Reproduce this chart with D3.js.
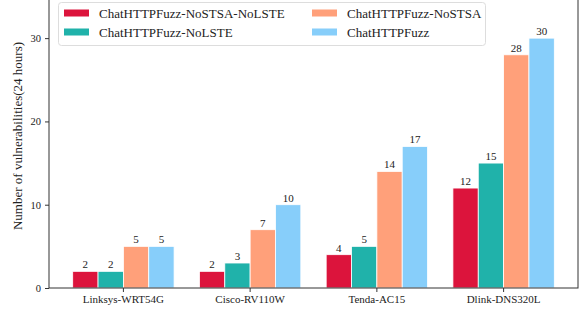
<!DOCTYPE html>
<html>
<head>
<meta charset="utf-8">
<script src="https://cdn.jsdelivr.net/npm/d3@7/dist/d3.min.js"></script>
<style>
  body { margin: 0; background: #fff; }
</style>
</head>
<body>
<div id="chart"></div>
<script>
const devices = ['Linksys-WRT54G', 'Cisco-RV110W', 'Tenda-AC15', 'Dlink-DNS320L'];
const seriesNames = ['ChatHTTPFuzz-NoSTSA-NoLSTE', 'ChatHTTPFuzz-NoLSTE', 'ChatHTTPFuzz-NoSTSA', 'ChatHTTPFuzz'];
const noStsaNoLste = [2, 2, 4, 12];
const noLste = [2, 3, 5, 15];
const noStsa = [5, 7, 14, 28];
const full = [5, 10, 17, 30];
const yTicks = [0, 10, 20, 30];
const colors = ['#DC143C', '#20B2AA', '#FFA07A', '#87CEFA'];

const seriesValues = [noStsaNoLste, noLste, noStsa, full];
const FONT = '"Liberation Serif", "Times New Roman", serif';

const width = 582, height = 314;
const plotLeft = 49, plotRight = 578, plotBottom = 288, plotTop = -16;

const svg = d3.select('#chart').append('svg')
  .attr('width', width)
  .attr('height', height);

const x = d3.scaleBand()
  .domain(devices)
  .range([plotLeft, plotRight])
  .paddingInner(0.2)
  .paddingOuter(0.187);

const xs = d3.scaleBand()
  .domain(seriesNames)
  .range([0, x.bandwidth()]);

const y = d3.scaleLinear()
  .domain([0, 36.5])
  .range([plotBottom, plotTop]);

// bars + value labels
seriesNames.forEach((name, si) => {
  const rows = devices.map((d, i) => ({ device: d, value: seriesValues[si][i] }));
  const g = svg.append('g');
  g.selectAll('rect')
    .data(rows)
    .enter()
    .append('rect')
    .attr('x', d => x(d.device) + xs(name))
    .attr('y', d => y(d.value))
    .attr('width', xs.bandwidth())
    .attr('height', d => y(0) - y(d.value))
    .attr('fill', colors[si])
    .attr('stroke', '#fff')
    .attr('stroke-width', 0.8);

  g.selectAll('text')
    .data(rows)
    .enter()
    .append('text')
    .attr('x', d => x(d.device) + xs(name) + xs.bandwidth() / 2)
    .attr('y', d => y(d.value) - 3)
    .attr('text-anchor', 'middle')
    .style('font-family', FONT)
    .style('font-size', '11px')
    .attr('fill', '#222')
    .text(d => d.value);
});

// axes
const xAxis = svg.append('g')
  .attr('transform', `translate(0,${plotBottom})`)
  .call(d3.axisBottom(x).tickSize(4).tickPadding(3).tickSizeOuter(0));
xAxis.select('.domain').remove();
xAxis.selectAll('text')
  .style('font-family', FONT).style('font-size', '11px').attr('fill', '#222');
xAxis.selectAll('line').attr('stroke', '#333');

const yAxis = svg.append('g')
  .attr('transform', `translate(${plotLeft},0)`)
  .call(d3.axisLeft(y).tickValues(yTicks).tickSize(4).tickPadding(4));
yAxis.select('.domain').remove();
yAxis.selectAll('text')
  .style('font-family', FONT).style('font-size', '10.5px').attr('fill', '#222');
yAxis.selectAll('line').attr('stroke', '#333');

// spines
svg.append('rect')
  .attr('x', plotLeft)
  .attr('y', plotTop)
  .attr('width', plotRight - plotLeft)
  .attr('height', plotBottom - plotTop)
  .attr('fill', 'none')
  .attr('stroke', '#333')
  .attr('stroke-width', 1);

// y label
svg.append('text')
  .attr('transform', 'translate(22,136) rotate(-90)')
  .attr('text-anchor', 'middle')
  .style('font-family', FONT)
  .style('font-size', '13px')
  .attr('fill', '#222')
  .text('Number of vulnerabilities(24 hours)');

// legend
const legend = svg.append('g');
legend.append('rect')
  .attr('x', 58.5).attr('y', 2.5)
  .attr('width', 427).attr('height', 43)
  .attr('rx', 3)
  .attr('fill', '#fff')
  .attr('fill-opacity', 0.8)
  .attr('stroke', '#ddd');

const legX = [64, 312];
const legY = [13, 32];
seriesNames.forEach((name, i) => {
  const col = i < 2 ? 0 : 1;
  const row = i % 2;
  legend.append('rect')
    .attr('x', legX[col]).attr('y', legY[row] - 3.5)
    .attr('width', 25).attr('height', 7)
    .attr('fill', colors[i]);
  legend.append('text')
    .attr('x', legX[col] + 35).attr('y', legY[row] + 4.5)
    .style('font-family', FONT)
    .style('font-size', '13px')
    .attr('fill', '#222')
    .text(name);
});
</script>
</body>
</html>
